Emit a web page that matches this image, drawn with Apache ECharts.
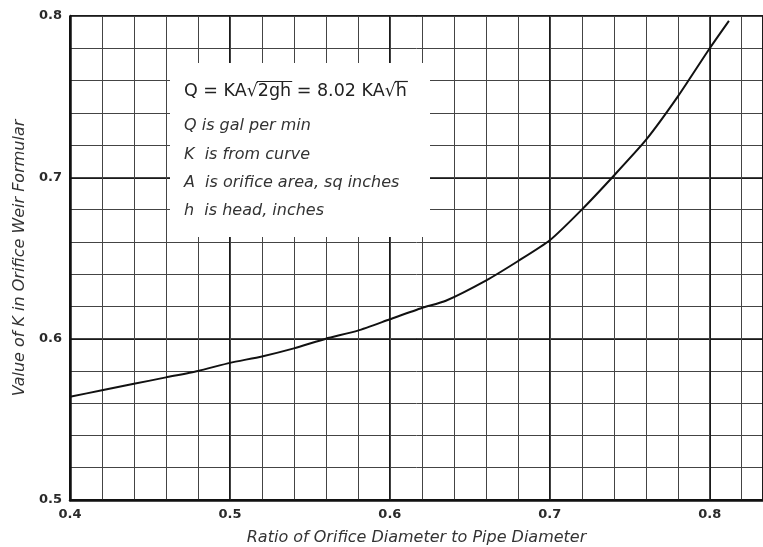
<!DOCTYPE html>
<html>
<head>
<meta charset="utf-8">
<script src="https://cdn.jsdelivr.net/npm/echarts@6/dist/echarts.min.js"></script>
<style>
html,body{margin:0;padding:0;background:#fff;overflow:hidden;}
#chart{width:763px;height:547px;}
</style>
</head>
<body>
<div id="chart"></div>
<script>
// Ratio of orifice diameter to pipe diameter
const ratio = [0.40, 0.42, 0.44, 0.46, 0.48, 0.50, 0.52, 0.54, 0.56, 0.58, 0.60, 0.62, 0.635, 0.66, 0.68, 0.70, 0.72, 0.74, 0.76, 0.78, 0.80, 0.812];
// Value of K
const kValue = [0.564, 0.568, 0.572, 0.576, 0.580, 0.585, 0.589, 0.594, 0.600, 0.605, 0.612, 0.619, 0.6235, 0.636, 0.648, 0.661, 0.680, 0.701, 0.723, 0.750, 0.780, 0.797];
const xTicks = [0.4, 0.5, 0.6, 0.7, 0.8];
const yTicks = [0.5, 0.6, 0.7, 0.8];
const formulaParts = ['Q = KA√', '2gh', ' = 8.02 KA√', 'h'];
const noteLines = [
  'Q is gal per min',
  'K  is from curve',
  'A  is orifice area, sq inches',
  'h  is head, inches'
];
const xTitle = 'Ratio of Orifice Diameter to Pipe Diameter';
const yTitle = 'Value of K in Orifice Weir Formular';

const FONT = '"DejaVu Sans", "Liberation Sans", sans-serif';
const chart = echarts.init(document.getElementById('chart'), null, {renderer: 'canvas', width: 763, height: 547});
const pts = ratio.map((x, i) => [x, kValue[i]]);
const xMin = xTicks[0], xMax = 0.8333, yMin = yTicks[0], yMax = yTicks[yTicks.length - 1];

// measure formula pieces for the radical overbars
const FORMULA_FONT = '17.5px ' + FONT;
const ctx = document.createElement('canvas').getContext('2d');
ctx.font = FORMULA_FONT;
const fx = 184, fy = 91, barY = 81.5;
const w = s => ctx.measureText(s).width;
const p0 = w(formulaParts[0]);
const p1 = w(formulaParts[0] + formulaParts[1]);
const p2 = w(formulaParts[0] + formulaParts[1] + formulaParts[2]);
const p3 = w(formulaParts.join(''));

const noteY = [125.5, 155, 183, 210.5];
const graphics = [
  {type: 'rect', z: 3, shape: {x: 170, y: 63, width: 260, height: 174}, style: {fill: '#fff'}},
  {type: 'text', z: 4, style: {x: fx, y: fy, verticalAlign: 'middle', text: formulaParts.join(''), font: FORMULA_FONT, fill: '#222'}},
  {type: 'line', z: 4, shape: {x1: fx + p0 - 1, y1: barY, x2: fx + p1 + 1, y2: barY}, style: {stroke: '#222', lineWidth: 1.2}},
  {type: 'line', z: 4, shape: {x1: fx + p2 - 1, y1: barY, x2: fx + p3 + 1, y2: barY}, style: {stroke: '#222', lineWidth: 1.2}}
];
noteLines.forEach((t, i) => {
  graphics.push({type: 'text', z: 4, style: {x: fx, y: noteY[i], verticalAlign: 'middle', text: t, font: 'oblique 16px ' + FONT, fill: '#333'}});
});

const tickLabel = {fontFamily: FONT, fontSize: 13, fontWeight: 'bold', color: '#2a2a2a'};

const option = {
  animation: false,
  backgroundColor: '#fff',
  grid: {left: 70, right: 0, top: 16, bottom: 47, containLabel: false, outerBoundsMode: 'none'},
  xAxis: [
    {
      type: 'value', min: xMin, max: xMax, interval: 0.1,
      axisLine: {show: true, lineStyle: {color: '#111', width: 2.5}},
      axisTick: {show: false},
      axisLabel: Object.assign({show: true, showMaxLabel: false, margin: 8,
        formatter: v => xTicks.some(t => Math.abs(t - v) < 1e-6) ? v.toFixed(1) : ''}, tickLabel),
      splitLine: {show: true, lineStyle: {color: '#1a1a1a', width: 2}},
      name: xTitle, nameLocation: 'middle', nameGap: 30,
      nameTextStyle: {fontFamily: FONT, fontSize: 16, fontStyle: 'italic', color: '#333', verticalAlign: 'top'}
    },
    {
      type: 'value', min: xMin, max: xMax, interval: 0.02, position: 'top',
      axisLine: {show: false}, axisTick: {show: false}, axisLabel: {show: false},
      splitLine: {show: true, lineStyle: {color: '#444', width: 1}}
    }
  ],
  yAxis: [
    {
      type: 'value', min: yMin, max: yMax, interval: 0.1,
      axisLine: {show: true, lineStyle: {color: '#111', width: 2.5}},
      axisTick: {show: false},
      axisLabel: Object.assign({show: true, margin: 8, formatter: v => v.toFixed(1)}, tickLabel),
      splitLine: {show: true, lineStyle: {color: '#1a1a1a', width: 2}},
      name: yTitle, nameLocation: 'middle', nameGap: 42,
      nameTextStyle: {fontFamily: FONT, fontSize: 16, fontStyle: 'italic', color: '#333'}
    },
    {
      type: 'value', min: yMin, max: yMax, interval: 0.02, position: 'right',
      axisLine: {show: false}, axisTick: {show: false}, axisLabel: {show: false},
      splitLine: {show: true, lineStyle: {color: '#444', width: 1}}
    }
  ],
  series: [{
    type: 'line', data: pts, xAxisIndex: 0, yAxisIndex: 0,
    showSymbol: false, smooth: 0.2, z: 5,
    lineStyle: {color: '#111', width: 2}
  }],
  graphic: graphics
};
chart.setOption(option);
</script>
</body>
</html>
